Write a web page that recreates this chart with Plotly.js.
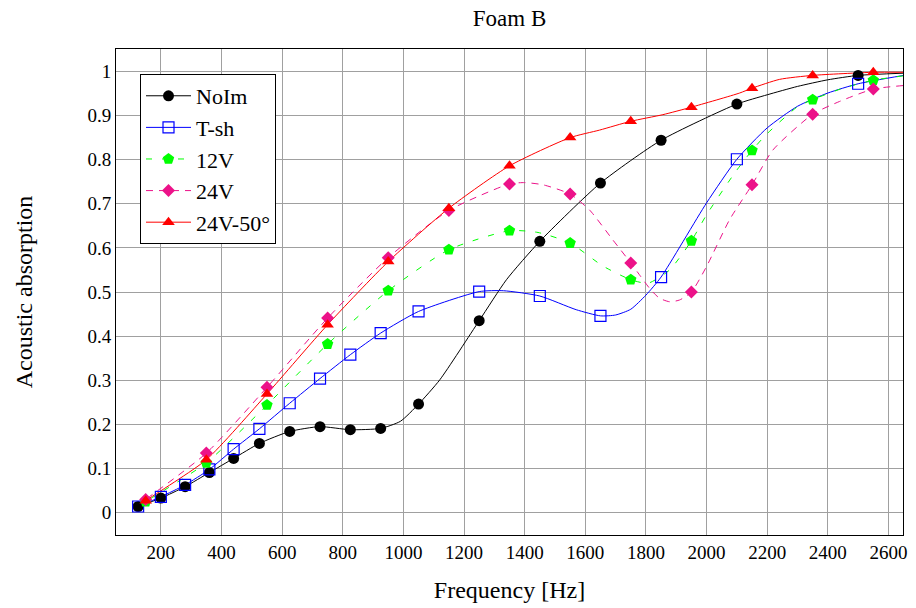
<!DOCTYPE html>
<html>
<head>
<meta charset="utf-8">
<script src="https://cdn.plot.ly/plotly-3.0.1.min.js"></script>
<style>html,body{margin:0;padding:0;background:#fff;}#chart{width:916px;height:608px;}</style>
</head>
<body>
<div id="chart"></div>
<script>
// ---- data ----
const seriesNames = ["NoIm", "T-sh", "12V", "24V", "24V-50°"];

const noimFreq = [125,200,280,360,440,525,625,725,825,925,990,1050,1120,1250,1340,1450,1650,1850,2100,2200,2300,2400,2500,2650];
const noimVal  = [0.014,0.033,0.059,0.091,0.123,0.157,0.184,0.195,0.188,0.191,0.207,0.246,0.301,0.435,0.528,0.615,0.747,0.844,0.926,0.947,0.966,0.981,0.991,0.996];
const noimMark = [1,1,1,1,1,1,1,1,1,1,0,1,0,1,0,1,1,1,1,0,0,0,1,0];

const tshFreq = [125,200,280,360,440,525,625,725,825,925,1050,1250,1330,1450,1570,1650,1700,1750,1800,1850,2000,2100,2200,2300,2400,2500,2650];
const tshVal  = [0.014,0.036,0.063,0.098,0.144,0.190,0.248,0.304,0.358,0.407,0.456,0.501,0.503,0.491,0.460,0.446,0.448,0.461,0.493,0.534,0.702,0.801,0.872,0.921,0.951,0.972,0.991];
const tshMark = [1,1,1,1,1,1,1,1,1,1,1,1,0,1,0,1,0,0,0,1,0,1,0,0,0,1,0];

const v12Freq = [120,150,350,550,750,950,1150,1350,1444,1550,1658,1750,1807,1878,1950,2000,2093,2150,2197,2300,2350,2450,2550,2650];
const v12Val  = [0.012,0.025,0.113,0.244,0.382,0.503,0.596,0.639,0.635,0.611,0.559,0.528,0.520,0.550,0.616,0.675,0.770,0.821,0.857,0.920,0.936,0.962,0.980,0.990];
const v12Mark = [0,1,1,1,1,1,1,1,0,1,0,1,0,0,1,0,0,1,0,0,1,0,1,0];

const v24Freq = [120,150,350,550,750,950,1150,1350,1400,1461,1550,1614,1691,1750,1783,1816,1845,1878,1911,1950,2000,2076,2150,2219,2350,2439,2550,2650];
const v24Val  = [0.015,0.030,0.135,0.284,0.441,0.578,0.685,0.745,0.748,0.743,0.722,0.686,0.618,0.566,0.535,0.505,0.486,0.478,0.482,0.500,0.558,0.664,0.743,0.822,0.903,0.932,0.960,0.968];
const v24Mark = [0,1,1,1,1,1,1,1,0,0,1,0,0,1,0,0,0,0,0,1,0,0,1,0,1,0,1,0];

const v2450Freq = [120,150,350,550,750,950,1150,1350,1550,1647,1750,1856,1950,2109,2150,2241,2350,2550,2650];
const v2450Val  = [0.011,0.027,0.120,0.269,0.426,0.569,0.690,0.786,0.850,0.867,0.887,0.902,0.919,0.951,0.962,0.982,0.991,0.998,0.998];
const v2450Mark = [0,1,1,1,1,1,1,1,1,0,1,0,1,0,1,0,1,1,0];

const xTickVals = [200,400,600,800,1000,1200,1400,1600,1800,2000,2200,2400,2600];
const yTickVals = [0,0.1,0.2,0.3,0.4,0.5,0.6,0.7,0.8,0.9,1];

// ---- styles ----
const styles = [
  {color:"#000000", dash:"solid", symbol:"circle", size:11, open:false},
  {color:"#0000ff", dash:"solid", symbol:"square-open", size:11, open:true},
  {color:"#00ff00", dash:"6px,10px", symbol:"pentagon", size:12, open:false},
  {color:"#ec1289", dash:"7px,6px", symbol:"diamond", size:10, open:false},
  {color:"#ff0000", dash:"solid", symbol:"triangle-up", size:11, open:false}
];
const allData = [
  [noimFreq, noimVal, noimMark],
  [tshFreq, tshVal, tshMark],
  [v12Freq, v12Val, v12Mark],
  [v24Freq, v24Val, v24Mark],
  [v2450Freq, v2450Val, v2450Mark]
];

const traces = [];
allData.forEach((d, i) => {
  const s = styles[i];
  traces.push({
    x: d[0], y: d[1], type: "scatter", mode: "lines", showlegend: false,
    line: {color: s.color, width: 1, dash: s.dash, shape: "spline", smoothing: 0.6},
    hoverinfo: "skip"
  });
});
allData.forEach((d, i) => {
  const s = styles[i];
  const mx = d[0].filter((_, k) => d[2][k]);
  const my = d[1].filter((_, k) => d[2][k]);
  traces.push({
    x: mx, y: my, type: "scatter", mode: "markers", showlegend: false,
    marker: {color: s.color, symbol: s.symbol, size: s.size, line: {width: s.open ? 1.2 : 0, color: s.color}}
  });
});
allData.forEach((d, i) => {
  const s = styles[i];
  traces.push({
    x: [null], y: [null], type: "scatter", mode: "lines+markers", name: seriesNames[i],
    line: {color: s.color, width: 1, dash: s.dash},
    marker: {color: s.color, symbol: s.symbol, size: s.size, line: {width: s.open ? 1.2 : 0, color: s.color}}
  });
});

const font = "'Liberation Serif', 'DejaVu Serif', serif";
const layout = {
  width: 916, height: 608,
  margin: {l: 116, r: 13, t: 49, b: 73},
  paper_bgcolor: "#fff", plot_bgcolor: "#fff",
  font: {family: font, size: 19, color: "#000"},
  title: {text: "Foam B", x: 0.5, xref: "paper", y: 0.97, yanchor: "middle", font: {family: font, size: 23}},
  xaxis: {
    range: [52, 2648], tickvals: xTickVals, ticktext: xTickVals.map(String),
    showgrid: true, gridcolor: "#a0a0a0", gridwidth: 1,
    showline: true, linecolor: "#000", linewidth: 1, mirror: true,
    ticks: "", zeroline: false,
    title: {text: "Frequency [Hz]", font: {family: font, size: 24}, standoff: 19},
    tickfont: {family: font, size: 19}
  },
  yaxis: {
    range: [-0.0506, 1.0508], tickvals: yTickVals, ticktext: yTickVals.map(v => String(v)),
    showgrid: true, gridcolor: "#a0a0a0", gridwidth: 1,
    showline: true, linecolor: "#000", linewidth: 1, mirror: true,
    ticks: "", zeroline: false,
    title: {text: "Acoustic absorption", font: {family: font, size: 24}, standoff: 48},
    tickfont: {family: font, size: 19}
  },
  legend: {
    x: 0.0305, y: 0.9486, xanchor: "left", yanchor: "top",
    bgcolor: "#fff", bordercolor: "#000", borderwidth: 1,
    font: {family: font, size: 22}, itemwidth: 45
  },
  showlegend: true
};

Plotly.newPlot("chart", traces, layout, {displayModeBar: false, staticPlot: true});
</script>
</body>
</html>
